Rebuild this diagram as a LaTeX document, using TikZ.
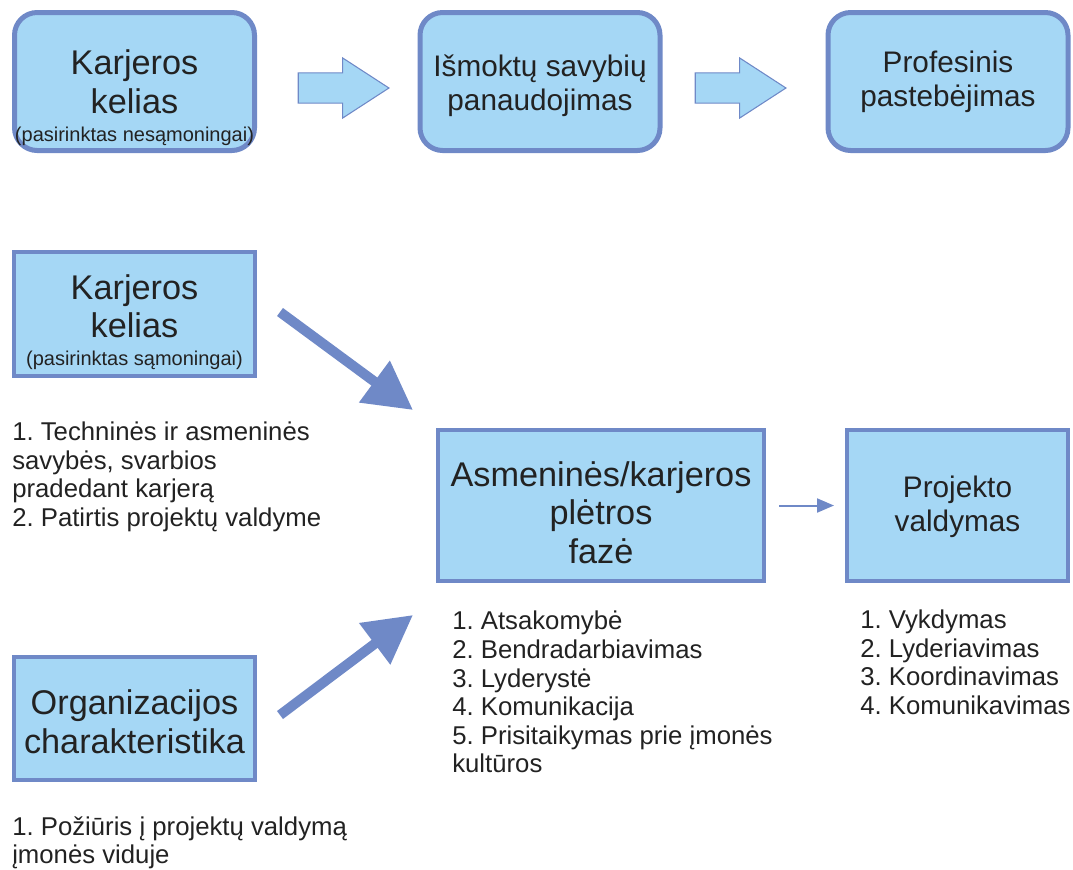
\documentclass[tikz,border=0pt]{standalone}
\usepackage{fontspec}
\setmainfont{Liberation Sans}
\frenchspacing
\usetikzlibrary{arrows.meta,shapes.arrows,positioning}
\definecolor{boxfill}{RGB}{165,215,245}
\definecolor{boxline}{RGB}{111,137,199}
\definecolor{txtgray}{RGB}{34,34,34}

\begin{document}
\begin{tikzpicture}[x=0.75pt,y=-0.75pt,
  rbox/.style={draw=boxline,fill=boxfill,line width=3.75pt,rounded corners=17pt,
    minimum width=180pt,minimum height=103.5pt,inner sep=0pt},
  sbox/.style={draw=boxline,fill=boxfill,line width=3pt,inner sep=0pt},
  bigtxt/.style={font=\fontsize{25.7pt}{29pt}\selectfont,align=center,text=txtgray},
  midtxt/.style={font=\fontsize{22.3pt}{25.5pt}\selectfont,align=center,text=txtgray},
  listtxt/.style={font=\fontsize{19.3pt}{21.4pt}\selectfont,align=left,text=txtgray,
    anchor=north west,inner sep=0pt},
  blockarr/.style={single arrow,draw=boxline,fill=boxfill,line width=0.8pt,inner sep=0pt,
    inner ysep=10.9pt,minimum height=68pt,single arrow head extend=11.25pt,
    single arrow tip angle=66},
  fatarr/.style={draw=boxline,line width=7.5pt,-{Triangle[length=36pt,width=37pt]}},
  thinarr/.style={draw=boxline,line width=1.5pt,-{Triangle[length=12.75pt,width=10.5pt]}}]
\useasboundingbox (0,0) rectangle (1073,869);

% top row
\node[rbox] (kel1) at (134.5,81.5) {};
\node[rbox] (isk) at (540,81.5) {};
\node[rbox] (prof) at (948,81.5) {};
\node[bigtxt] (kel1txt) at ([yshift=-12pt]kel1.center) {Karjeros\\kelias\\[-8pt]
  {\fontsize{15pt}{18pt}\selectfont(pasirinktas nesąmoningai)}};
\node[midtxt] (isktxt) at ([yshift=-3.5pt]isk.center) {Išmoktų savybių\\panaudojimas};
\node[midtxt] (proftxt) at (prof.center) {Profesinis\\pastebėjimas};
\node[blockarr] (arr1) at (332,88) {};
\node[blockarr] (arr2) at (729,88) {};

% second part
\node[sbox,minimum width=180.75pt,minimum height=93pt] (kel2) at (134.5,314) {};
\node[sbox,minimum width=244.5pt,minimum height=113.25pt] (asm) at (601,505.5) {};
\node[sbox,minimum width=165.75pt,minimum height=113.25pt] (proj) at (957.5,505.5) {};
\node[sbox,minimum width=180.75pt,minimum height=92.25pt] (org) at (134.5,718.5) {};
\node[bigtxt] (kel2txt) at ([yshift=-6pt]kel2.center) {Karjeros\\kelias\\[-8pt]
  {\fontsize{15pt}{18pt}\selectfont(pasirinktas sąmoningai)}};
\node[bigtxt] (asmtxt) at ([yshift=-5.25pt]asm.center) {Asmeninės/karjeros\\plėtros\\fazė};
\node[midtxt] (projtxt) at ([yshift=-1pt]proj.center) {Projekto\\valdymas};
\node[bigtxt] (orgtxt) at ([yshift=-2.25pt]org.center) {Organizacijos\\charakteristika};

% lists
\node[listtxt] (kel2list) at (12,422) {1. Techninės ir asmeninės\\savybės, svarbios\\
  pradedant karjerą\\2. Patirtis projektų valdyme};
\node[listtxt] (asmlist) at (452,611) {1. Atsakomybė\\2. Bendradarbiavimas\\3. Lyderystė\\
  4. Komunikacija\\5. Prisitaikymas prie įmonės\\kultūros};
\node[listtxt] (projlist) at (860,610) {1. Vykdymas\\2. Lyderiavimas\\3. Koordinavimas\\
  4. Komunikavimas};
\node[listtxt] (orglist) at (12,816) {1. Požiūris į projektų valdymą\\įmonės viduje};

% arrows
\coordinate (kel2out) at (280,312);
\coordinate (asmin1) at (413,410);
\coordinate (orgout) at (280,715);
\coordinate (asmin2) at (413,615);
\draw[fatarr] (kel2out) -- (asmin1);
\draw[fatarr] (orgout) -- (asmin2);
\draw[thinarr,shorten <=9.75pt,shorten >=8.25pt] (asm) -- (proj);
\end{tikzpicture}
\end{document}
